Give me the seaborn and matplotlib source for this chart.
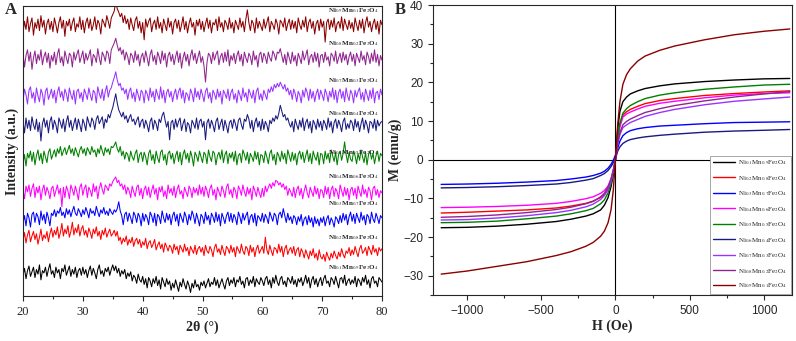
import numpy as np
import pandas as pd
import seaborn as sns
import matplotlib.pyplot as plt
from matplotlib.ticker import MultipleLocator

sns.set_style("ticks")
plt.rcParams['font.family'] = ['Liberation Serif', 'DejaVu Serif']
plt.rcParams['mathtext.fontset'] = 'stix'

# ---- data -------------------------------------------------------------
samples = ['Ni$_{0.1}$Mn$_{0.9}$Fe$_2$O$_4$', 'Ni$_{0.2}$Mn$_{0.8}$Fe$_2$O$_4$',
           'Ni$_{0.3}$Mn$_{0.7}$Fe$_2$O$_4$', 'Ni$_{0.4}$Mn$_{0.6}$Fe$_2$O$_4$',
           'Ni$_{0.5}$Mn$_{0.5}$Fe$_2$O$_4$', 'Ni$_{0.6}$Mn$_{0.4}$Fe$_2$O$_4$',
           'Ni$_{0.7}$Mn$_{0.3}$Fe$_2$O$_4$', 'Ni$_{0.8}$Mn$_{0.2}$Fe$_2$O$_4$',
           'Ni$_{0.9}$Mn$_{0.1}$Fe$_2$O$_4$']
colors = ['black', '#ff0000', '#0000ff', '#ff00ff', '#008000', '#1a1a80',
          '#9933ff', '#8f268f', '#8b0000']

two_theta = [20 + 0.25 * i for i in range(241)]
xrd_01 = [5, 11, 2, 9, 13, 4, 8, 12, 3, 10, 6, 14, 1, 9, 7, 12, 4, 10, 15, 6,
          9, 3, 12, 7, 10, 2, 11, 8, 14, 5, 9, 13, 4, 10, 6, 12, 3, 9, 11, 5,
          12, 6, 10, 3, 9, 13, 5, 11, 7, 2, 10, 14, 6, 9, 4, 11, 8, 12, 5, 10,
          14, 9, 13, 7, 11, 4, 9, 6, 10, 2, 7, 4, 8, 0, 5, 3, -2, 6, 1, -1,
          4, -3, 2, -6, 3, 0, -5, 2, -2, 4, -4, 1, -7, 3, -1, -5, 2, -3, 0, -8,
          -2, -6, 1, -4, -9, -1, -5, 2, -3, -7, 0, -4, -10, -2, -6, 1, -5, -3, -8, -1,
          -4, 0, -6, -2, 2, -5, -1, -3, 3, -4, 1, -6, -2, 2, -3, -7, 0, 3, -4, 1,
          -2, 3, -5, 1, -1, 4, -3, 0, -6, 2, 3, -4, 1, -2, 4, -5, 2, -1, -3, 3,
          0, -4, 2, 4, -3, 1, -6, 3, -2, 5, -1, -4, 2, 4, -3, 0, -5, 3, 1, -2,
          4, -3, 1, -5, 2, -1, 3, -4, 0, 5, -2, 3, -6, 1, 4, -3, 2, -5, 0, 3,
          -4, 2, 5, -2, 0, -5, 3, 1, -3, 4, -1, -6, 2, 3, -2, 5, -4, 0, 2, -3,
          1, -2, 4, -5, 2, 0, -4, 3, -1, 5, -3, 1, -6, 2, 4, -2, 0, -5, 3, 1, -1]
xrd_02 = [9, 16, 7, 14, 18, 8, 13, 17, 10, 15, 6, 12, 19, 9, 14, 11, 17, 8, 15, 20,
          12, 18, 14, 21, 11, 16, 24, 13, 19, 15, 22, 12, 17, 25, 14, 20, 16, 23, 13, 19,
          22, 14, 18, 12, 20, 16, 11, 19, 15, 21, 13, 17, 10, 18, 14, 20, 12, 16, 19, 13,
          15, 18, 13, 17, 9, 12, 6, 11, 8, 13, 5, 10, 7, 12, 4, 9, 11, 6, 10, 3,
          8, 5, 11, 2, 7, 9, 3, 6, 10, 1, 5, 8, 2, 6, -1, 7, 4, 0, 5, 3,
          -2, 6, 1, 4, -3, 5, 2, -1, 6, 0, 3, -4, 4, 1, -2, 5, -3, 2, 4, -1,
          3, -4, 5, 0, -2, 4, 1, -5, 3, 6, -1, 2, -3, 5, 0, -4, 4, 2, -2, 5,
          -1, 3, -5, 4, 1, -2, 6, 0, -3, 4, 2, -4, 5, -1, 3, -5, 2, 5, -2, 1,
          4, -2, 12, 1, -3, 5, 0, -4, 3, 2, -2, 6, -1, 4, -5, 2, 5, -3, 1, 3,
          -2, 4, -4, 1, 3, -5, 2, -1, -6, 1, -3, -7, 0, -4, 2, -6, -2, -8, 1, -5,
          -7, -3, -9, -1, -5, -8, -2, -6, 0, -4, -7, -1, -5, 2, -3, -6, 0, -2, 3, -4,
          1, -3, 4, -1, -5, 2, 5, -2, 0, 3, -4, 4, 1, -3, 5, -1, 2, -4, 3, 0, 2]
xrd_03 = [-4, 3, -6, 5, 1, -7, 4, 6, -3, 5, 2, -5, 7, -1, 4, -4, 6, 1, -6, 5,
          3, 8, 2, 7, 5, 10, 3, 6, 1, 9, 4, 8, 2, 7, 11, 5, 3, 9, 6, 2,
          8, 4, 10, 6, 1, 9, 5, 7, 3, 11, 6, 2, 8, 5, 10, 4, 7, 3, 9, 6,
          4, 8, 6, 9, 15, 7, 3, -5, 4, 6, -2, 5, 1, -4, 6, 3, -3, 5, 2, -6,
          5, -2, 4, 1, -5, 6, 3, -3, 5, -6, 4, 2, -4, 7, 1, -3, 5, -1, 4, -5,
          3, 6, -2, 4, -6, 5, 1, -3, 6, 2, -5, 4, -1, 7, 3, -4, 5, 0, -6, 4,
          2, -4, 6, -1, 3, -5, 5, 2, -3, 6, -2, 4, -6, 5, 1, -4, 3, 6, -2, 5,
          -3, 4, 1, -5, 6, 2, -4, 5, -1, 3, 6, -5, 2, 4, -3, 5, -6, 3, 1, -2,
          5, -3, 4, 1, -4, 6, 2, -2, 5, 3, -5, 4, 6, 1, 9, 3, -3, 5, -1, 2,
          -4, 3, 1, -5, 2, -2, 4, -6, 0, 2, -5, 3, -3, 1, -7, 2, -4, 0, -6, 1,
          -3, 2, -6, 0, 3, -5, 1, -2, -7, 2, 0, -4, 3, -3, 5, -1, 4, -5, 2, 6,
          -2, 4, -4, 5, 1, -3, 6, -1, 3, -5, 4, 2, -4, 6, 0, -3, 5, 1, -4, 3, 1]
xrd_04 = [3, -5, 6, 1, 7, -3, 4, 8, -4, 5, 0, 6, -6, 3, 7, -2, 5, 1, -5, 4,
          6, -3, 2, 7, -1, 4, -12, 5, -4, 6, 2, -5, 7, 3, -2, 6, 1, -6, 5, 8,
          -2, 4, 7, -4, 5, 2, -3, 8, 1, 6, -5, 4, 9, 3, -1, 7, 5, 2, 8, 6,
          10, 12, 14, 9, 11, 6, 8, 3, 7, -1, 5, 2, -4, 6, 1, -3, 5, 7, -2, 4,
          -5, 3, 6, -2, 5, -4, 2, 7, -1, 4, -6, 5, 1, 6, -3, 2, -5, 7, 0, 4,
          -2, 6, -4, 3, 7, -1, 2, -5, 5, 1, -3, 6, 3, -4, 5, 0, 4, -2, 7, -1,
          5, -3, 6, 2, -4, 4, 7, -2, 3, -6, 5, 1, -3, 6, 2, -4, 5, 8, -1, 3,
          -4, 5, 2, -5, 6, 3, -2, 7, 1, -3, 5, -1, 4, -6, 6, 2, -3, 5, 0, -4,
          4, -3, 6, 1, 5, 8, 4, 9, 6, 11, 10, 7, 9, 5, 8, 3, 6, -2, 4, 1,
          -3, 5, -4, 3, 6, -2, 4, -5, 2, 7, 0, -4, 5, 1, -3, 6, -1, 4, -5, 3,
          2, -4, 6, -1, 5, -5, 3, 6, -3, 4, 1, -5, 7, 2, -3, 5, -2, 4, -6, 3,
          5, -2, 4, -5, 6, 1, -3, 7, -1, 3, -4, 5, 2, -6, 4, 6, -2, 3, -4, 2, 0]
xrd_05 = [-5, 3, -7, 4, 0, 6, -3, 5, -6, 2, 7, -2, 4, -5, 6, 1, -4, 5, 8, -1,
          3, 7, 1, 8, 4, 10, 2, 6, 9, 3, 7, 11, 4, 8, 2, 9, 5, 1, 7, 10,
          4, 8, 2, 9, 6, 3, 10, 5, 7, 1, 8, 4, 11, 6, 2, 9, 5, 8, 3, 10,
          9, 11, 14, 8, 5, 10, 2, 6, -1, 5, 3, -3, 6, 1, -2, 4, 7, -4, 3, 5,
          -3, 5, 1, -6, 4, 7, -2, 3, -5, 6, 0, -4, 5, 7, -2, 3, -6, 4, 6, -1,
          4, -5, 2, 6, -3, 5, -6, 3, 7, -1, 4, -4, 6, 1, -7, 5, 2, -3, 6, 1,
          -4, 5, 3, -5, 7, 1, -3, 6, 4, -6, 2, 5, -1, 7, -4, 3, 6, -5, 4, 0,
          5, -3, 6, -6, 2, 4, -4, 7, 3, -2, 5, -5, 4, 1, -3, 6, -1, 5, -6, 3,
          2, -4, 6, 1, -5, 4, 7, -2, 3, -6, 5, 2, -3, 6, -1, 4, -5, 7, 2, -3,
          5, -2, 4, -6, 3, 6, -1, 5, -4, 2, 7, -3, 4, -5, 6, 1, -2, 5, -6, 4,
          3, -5, 6, -1, 4, -4, 7, 2, -3, 5, -6, 3, 6, -2, 4, 14, 3, -4, 5, -1,
          -3, 6, 2, -5, 4, -2, 7, 1, -4, 5, -6, 3, 6, -1, 4, -5, 2, 6, -3, 4, 2]
xrd_06 = [4, -6, 7, -2, 5, -4, 8, 1, -3, 6, -5, 3, -13, 2, 7, -1, 5, -6, 4, 8,
          -3, 5, 1, -6, 7, 3, -2, 6, -5, 4, 9, -1, 5, -4, 2, 7, -3, 6, 1, -5,
          6, 2, -4, 8, 3, -1, 7, 4, -3, 6, 9, 2, 5, 8, -2, 6, 3, 10, 7, 12,
          16, 22, 28, 20, 14, 11, 8, 12, 6, 9, 3, 7, 10, 4, 6, 1, 5, 8, -1, 4,
          6, -2, 5, 1, -5, 4, 7, -3, 5, 2, -4, 6, 3, 9, 12, 5, -1, 4, -12, 3,
          5, -3, 6, -1, 4, 7, -4, 2, 6, -5, 3, 1, -6, 5, 2, -2, 7, -3, 4, 6,
          -1, 4, -12, 3, 6, -2, 5, 1, -5, 4, 7, -3, 2, 6, -4, 5, 0, -6, 3, 5,
          -2, 6, 2, -4, 5, 7, 1, -3, 6, 4, 10, 6, -2, 5, -5, 3, 7, -1, 4, -4,
          6, -3, 4, 1, -5, 5, 2, 7, 4, 9, 6, 11, 18, 13, 8, 10, 5, 7, 2, -1,
          4, -5, 6, 1, -3, 5, -1, 7, -4, 3, 6, -2, 4, -6, 5, 2, -3, 6, -1, 4,
          -4, 5, 2, -3, 7, -1, 4, -6, 3, 6, -2, 5, 1, -5, 4, 7, -3, 2, -2, 5,
          3, -4, 6, -1, 4, -5, 2, 7, -3, 5, 1, -6, 4, 3, -2, 6, -4, 5, 0, 3, 4]
xrd_07 = [-4, 6, 1, -7, 5, 8, -2, 3, -6, 7, 0, -5, 6, 2, -8, 4, 7, -3, 1, 6,
          -2, 5, -6, 3, 8, -1, 4, -4, 6, 2, -5, 7, 1, -3, 5, -7, 4, 6, -2, 3,
          -5, 6, 2, -3, 7, 1, -4, 5, 3, -6, 8, 2, -2, 6, -4, 4, 9, -1, 5, 7,
          12, 16, 21, 14, 9, 11, 5, 7, 2, 6, -3, 4, 7, -2, 3, -5, 6, 1, -4, 5,
          3, -6, 5, 2, -4, 7, -1, 4, -5, 6, 1, -3, 8, -2, 5, -6, 3, 6, -1, 4,
          -5, 2, 6, -3, 4, 7, -2, 5, -6, 3, 1, -4, 6, 2, -5, 7, -1, 4, -3, 6,
          1, -5, 4, 7, -2, 3, -6, 5, 2, -3, 6, -1, 4, -7, 5, 2, -2, 6, -4, 3,
          6, -3, 2, -6, 5, 1, -4, 7, -1, 3, -5, 6, 2, -2, 5, -6, 4, 7, -3, 2,
          -4, 5, 1, -3, 6, 3, 8, 4, 10, 7, 11, 8, 12, 9, 6, 10, 4, 7, 1, 5,
          -3, 6, 2, -5, 4, 1, -6, 5, -1, 7, 3, -4, 6, -2, 4, -5, 2, 6, -3, 5,
          1, -4, 6, 2, -5, 4, -1, 7, -3, 5, -6, 3, 6, -2, 4, -5, 7, 0, -4, 5,
          2, -6, 5, -1, 4, 7, -3, 3, -5, 6, 1, -4, 5, -2, 7, -6, 3, 4, -3, 6, 1]
xrd_08 = [5, -7, 3, 8, -2, 6, -9, 1, 7, -4, 4, -1, 8, -5, 2, 6, -3, 5, -8, 3,
          -2, 6, -5, 4, 9, -3, 2, -6, 7, 1, -4, 5, 3, -7, 6, -1, 4, 8, -3, 2,
          7, -4, 5, -1, 3, 8, -6, 4, 2, -3, 9, 1, -5, 6, 3, -2, 7, 5, -4, 8,
          11, 14, 18, 12, 7, 10, 4, 8, -1, 6, 2, -5, 5, 3, -3, 7, -1, 4, -6, 2,
          5, -3, 7, 1, -6, 4, 8, -2, 3, -5, 6, 2, -4, 7, -1, 5, -7, 3, 6, -2,
          4, -5, 2, 7, -3, 5, -8, 1, 6, -2, 4, -6, 3, 8, -1, 5, -4, 2, 7, -3,
          2, -6, -20, -3, 5, 3, -4, 6, -1, 4, 7, -5, 2, 5, -3, 6, -2, 8, -6, 3,
          -1, 5, -4, 3, 7, -2, 4, -6, 6, 1, -3, 5, 2, -5, 7, -1, 3, -7, 4, 6,
          -3, 5, 2, -4, 6, 1, -2, 7, 4, -1, 6, 5, 9, 3, -3, 4, -5, 6, 1, -4,
          6, -2, 3, -6, 5, 1, -4, 7, -1, 3, 8, -5, 2, 4, -3, 6, -2, 5, -7, 3,
          4, -3, 6, -1, 2, -6, 5, 3, -2, 7, -4, 1, 5, -3, 6, -1, 4, -5, 2, 6,
          -2, 4, -6, 5, 1, -3, 7, -1, 3, -5, 6, 2, -4, 5, -2, 8, -3, 4, -6, 3, -1]
xrd_09 = [-6, 4, -3, 8, -5, 2, 7, -8, 3, -2, 6, -4, 9, -1, 5, -7, 2, 6, -3, 4,
          -5, 7, 1, -6, 3, 8, -2, 5, -9, 4, 0, 6, -4, 3, 7, -5, 2, -1, 8, -3,
          5, -6, 3, 7, -2, 6, -4, 1, 8, -3, 5, 2, -7, 6, 3, -1, 9, 4, -2, 7,
          10, 13, 21, 15, 12, 8, 11, 3, 9, 2, 6, -3, 7, 1, -4, 5, 8, -2, 4, -6,
          3, -12, 6, -1, 4, 7, -5, 2, 5, -3, 8, -2, 3, -6, 6, 1, -4, 7, -1, 4,
          -7, 3, 6, -2, 5, -5, 1, 8, -3, 4, -6, 2, 7, -1, 3, -8, 5, 0, 6, -3,
          4, -5, 2, 7, -2, 5, -6, 3, 1, 6, -4, 8, -1, 3, -5, 5, 2, -3, 7, -2,
          3, -6, 5, 1, -3, 7, -1, 4, -5, 6, 14, 3, -4, 5, 2, -6, 7, -2, 4, 0,
          -4, 6, -2, 3, 8, -5, 4, 1, -3, 6, 2, -7, 5, 3, -1, 7, -4, 2, 6, -3,
          5, -2, 4, -6, 7, 1, -3, 5, -1, 8, -5, 3, 6, -2, 4, -7, 2, 5, -4, 6,
          -1, 4, -14, 3, 6, -3, 5, -1, 7, -5, 2, 4, -2, 8, -4, 6, 1, -3, 5, -2,
          3, -5, 7, 1, -4, 5, -2, 6, -6, 3, 8, -1, 4, -5, 2, 6, -3, 4, -7, 5, 1]
xrd_traces = [xrd_01, xrd_02, xrd_03, xrd_04, xrd_05, xrd_06, xrd_07, xrd_08, xrd_09]
xrd_offsets = [15, 45, 77, 103, 138, 170, 200, 237, 270]
xrd_label_y = [28, 58, 92, 119, 143, 182, 215, 252, 285]

# M-H curves
field = [-1175, -1000, -800, -600, -400, -300, -200, -150, -100, -75, -50, -30, -15, 0,
         15, 30, 50, 75, 100, 150, 200, 300, 400, 600, 800, 1000, 1175]
m_01 = [-17.6, -17.5, -17.2, -16.7, -16.0, -15.4, -14.6, -14.0, -13.0, -11.8, -9.8, -7.0, -4.0, 0.0,
        8.0, 12.5, 15.0, 16.2, 17.0, 17.8, 18.4, 19.1, 19.6, 20.2, 20.6, 20.9, 21.0]
m_02 = [-13.8, -13.6, -13.3, -13.0, -12.5, -12.0, -11.3, -10.7, -9.8, -9.0, -7.5, -5.5, -3.0, 0.0,
        5.5, 9.0, 11.5, 12.4, 13.0, 13.8, 14.5, 15.3, 15.8, 16.6, 17.1, 17.5, 17.8]
m_03 = [-6.4, -6.3, -6.1, -5.8, -5.4, -5.0, -4.5, -4.1, -3.5, -3.0, -2.2, -1.2, -0.2, 1.2,
        3.0, 4.8, 6.2, 7.0, 7.5, 8.0, 8.3, 8.7, 8.9, 9.3, 9.6, 9.7, 9.8]
m_04 = [-12.4, -12.3, -12.1, -11.8, -11.3, -10.8, -10.1, -9.6, -8.7, -8.0, -6.8, -5.0, -2.8, 0.0,
        5.0, 8.5, 11.0, 11.8, 12.3, 13.1, 13.8, 14.6, 15.1, 16.0, 16.7, 17.1, 17.3]
m_05 = [-16.3, -16.2, -15.9, -15.3, -14.6, -14.0, -13.2, -12.6, -11.4, -10.4, -8.6, -6.2, -3.4, 0.0,
        6.0, 9.5, 12.0, 13.2, 14.0, 15.0, 15.8, 16.7, 17.3, 18.2, 18.8, 19.3, 19.5]
m_06 = [-7.3, -7.2, -7.0, -6.7, -6.3, -5.9, -5.3, -4.9, -4.1, -3.6, -2.8, -1.8, -0.8, 0.2,
        2.2, 3.3, 4.2, 4.8, 5.2, 5.6, 5.9, 6.3, 6.6, 7.1, 7.4, 7.6, 7.8]
m_07 = [-15.6, -15.5, -15.1, -14.5, -13.7, -13.1, -12.2, -11.5, -10.3, -9.3, -7.8, -5.6, -3.0, 0.0,
        4.0, 6.5, 8.3, 9.0, 9.6, 10.4, 11.2, 12.2, 13.0, 14.2, 15.1, 15.7, 16.2]
m_08 = [-14.9, -14.7, -14.3, -13.7, -12.9, -12.3, -11.4, -10.8, -9.6, -8.7, -7.1, -5.0, -2.7, 0.0,
        4.3, 7.0, 9.0, 9.9, 10.5, 11.4, 12.2, 13.2, 14.0, 15.2, 16.2, 17.0, 17.6]
m_09 = [-29.6, -28.8, -27.6, -26.4, -24.8, -23.8, -22.4, -21.4, -19.8, -18.5, -16.3, -13.0, -8.0, 0.0,
        9.0, 15.0, 19.5, 22.0, 23.5, 25.5, 26.8, 28.3, 29.4, 31.0, 32.3, 33.2, 33.8]
m_curves = [m_01, m_02, m_03, m_04, m_05, m_06, m_07, m_08, m_09]

# ---- figure -----------------------------------------------------------
fig = plt.figure(figsize=(7.96, 3.41), dpi=100)
axA = fig.add_axes([23/796, 45/341, 359/796, 290/341])
axB = fig.add_axes([433/796, 46/341, 359/796, 290/341])

# panel A: XRD
for trace, off, col, lab, ly in zip(xrd_traces, xrd_offsets, colors, samples, xrd_label_y):
    y = np.array(trace) * 1.15 + off
    sns.lineplot(x=two_theta, y=y, ax=axA, color=col, lw=0.75, sort=False)
    axA.text(79.5, ly, lab, ha='right', va='center', fontsize=5, fontweight='bold')

axA.set_xlim(20, 80)
axA.set_ylim(0, 290)
axA.set_yticks([])
axA.xaxis.set_major_locator(MultipleLocator(10))
axA.xaxis.set_minor_locator(MultipleLocator(5))
axA.tick_params(axis='x', which='major', labelsize=9, length=3.5, width=0.8, direction='out')
axA.tick_params(axis='x', which='minor', length=2, width=0.8, direction='out')
axA.set_xlabel('2θ (°)', fontsize=10, fontweight='bold', labelpad=2)
axA.set_ylabel('Intensity (a.u.)', fontsize=10, fontweight='bold', labelpad=3)
for s in axA.spines.values():
    s.set_linewidth(0.8)

# panel B: M-H
mh = pd.DataFrame({'H': np.tile(field, len(samples)),
                   'M': np.concatenate(m_curves),
                   'sample': np.repeat(samples, len(field))})
sns.lineplot(data=mh, x='H', y='M', hue='sample', hue_order=samples,
             palette=colors, lw=1.0, ax=axB)
axB.axhline(0, color='black', lw=0.8, zorder=0)
axB.axvline(0, color='black', lw=0.8, zorder=0)
axB.set_xlim(-1230, 1190)
axB.set_ylim(-35, 40)
axB.xaxis.set_major_locator(MultipleLocator(500))
axB.xaxis.set_minor_locator(MultipleLocator(250))
axB.yaxis.set_major_locator(MultipleLocator(10))
axB.yaxis.set_minor_locator(MultipleLocator(5))
axB.tick_params(which='major', labelsize=8.5, length=3.5, width=0.8, direction='out')
axB.tick_params(which='minor', length=2, width=0.8, direction='out')
for t in axB.get_xticklabels() + axB.get_yticklabels():
    t.set_family('Liberation Sans')
axB.set_xlabel('H (Oe)', fontsize=10, fontweight='bold', labelpad=2)
axB.set_ylabel('M (emu/g)', fontsize=10, fontweight='bold', labelpad=1)
for s in axB.spines.values():
    s.set_linewidth(0.8)
leg = axB.legend(loc='lower right', fontsize=5, handlelength=3.2, labelspacing=0.95,
                 borderaxespad=0.15, fancybox=False, edgecolor='#999999', framealpha=1,
                 handletextpad=0.4, borderpad=0.5)
leg.get_frame().set_linewidth(0.6)

fig.text(11/796, 1 - 10/341, 'A', fontsize=12, fontweight='bold', ha='center', va='center')
fig.text(400/796, 1 - 10/341, 'B', fontsize=12, fontweight='bold', ha='center', va='center')

fig.savefig('out.png', dpi=100)
